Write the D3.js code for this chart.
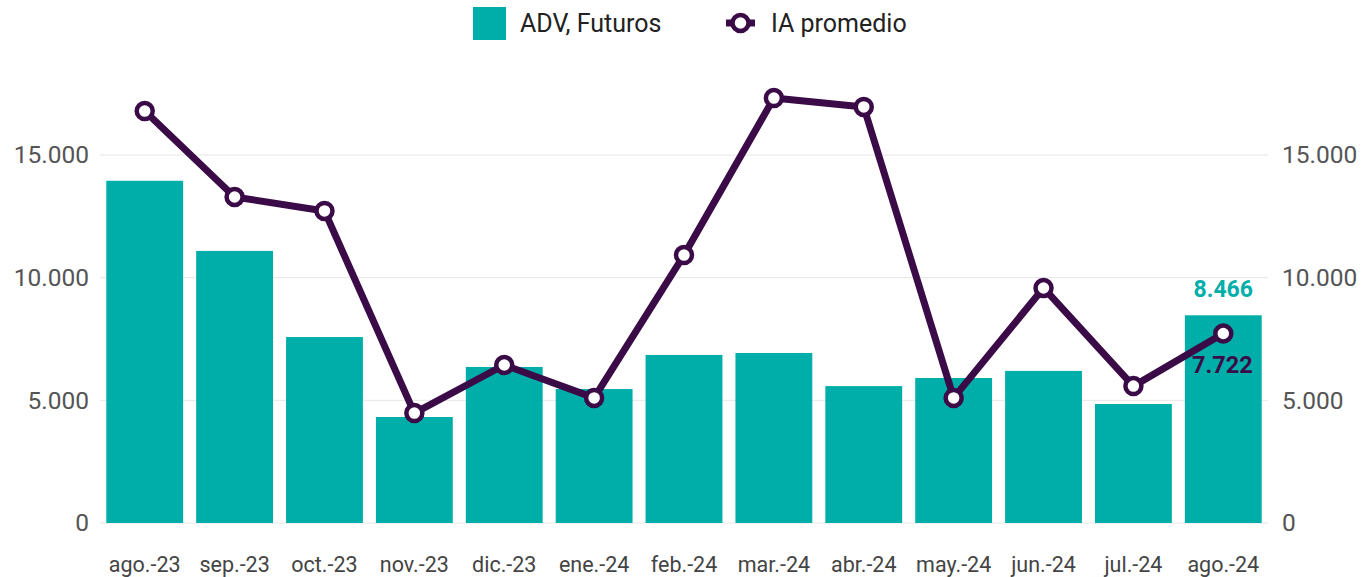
<!DOCTYPE html>
<html>
<head>
<meta charset="utf-8">
<script src="https://cdn.jsdelivr.net/npm/d3@7"></script>
<style>
  body { margin: 0; background: #fff; }
  svg { display: block; font-family: Roboto, sans-serif; }
</style>
</head>
<body>
<div id="chart"></div>
<script>
const months = ['ago.-23', 'sep.-23', 'oct.-23', 'nov.-23', 'dic.-23', 'ene.-24', 'feb.-24',
    'mar.-24', 'abr.-24', 'may.-24', 'jun.-24', 'jul.-24', 'ago.-24']
const advFuturos = [13950, 11090, 7580, 4320, 6360, 5460, 6850, 6930, 5580, 5910, 6200, 4850, 8466]
const iaPromedio = [16790, 13290, 12720, 4480, 6440, 5100, 10920, 17320, 16960, 5100, 9580, 5580, 7722]
const yTicks = [0, 5000, 10000, 15000]

const width = 1361, height = 577
const teal = '#00AEA9', purple = '#3A0B47'
const fmt = d => d3.format(',')(d).replace(/,/g, '.')

const svg = d3.select('#chart')
    .append('svg')
    .attr('width', width)
    .attr('height', height)

const xScale = d3.scaleBand().domain(months).range([100, 1268]).paddingInner(0.145).paddingOuter(0.07)
const yScale = d3.scaleLinear().domain([0, 15000]).range([523, 155])
const y1Scale = d3.scaleLinear().domain([0, 15000]).range([523, 155])

// gridlines
svg.append('g')
    .selectAll('line')
    .data(yTicks)
    .join('line')
    .attr('x1', 100)
    .attr('x2', 1268)
    .attr('y1', d => yScale(d))
    .attr('y2', d => yScale(d))
    .attr('stroke', '#e6e6e6')
    .attr('stroke-width', 1)

// left axis
const yaxis = d3.axisLeft(yScale).tickValues(yTicks).tickFormat(fmt).tickSize(0).tickPadding(0)
svg.append('g')
    .attr('transform', 'translate(89,0)')
    .call(yaxis)
    .call(g => g.select('.domain').remove())
    .selectAll('text')
    .style('font-size', '24.5px')
    .style('font-family', 'Roboto, sans-serif')
    .attr('fill', '#555')

// right axis
const y1axis = d3.axisRight(y1Scale).tickValues(yTicks).tickFormat(fmt).tickSize(0).tickPadding(0)
svg.append('g')
    .attr('transform', 'translate(1282,0)')
    .call(y1axis)
    .call(g => g.select('.domain').remove())
    .selectAll('text')
    .style('font-size', '24.5px')
    .style('font-family', 'Roboto, sans-serif')
    .attr('fill', '#555')

// x axis
const xaxis = d3.axisBottom(xScale).tickSize(0).tickPadding(0)
svg.append('g')
    .attr('transform', 'translate(0,557)')
    .call(xaxis)
    .call(g => g.select('.domain').remove())
    .selectAll('text')
    .style('font-size', '21.5px')
    .style('font-family', 'Roboto, sans-serif')
    .attr('fill', '#444')

// bars
svg.append('g')
    .selectAll('rect')
    .data(advFuturos)
    .join('rect')
    .attr('x', (d, i) => xScale(months[i]))
    .attr('y', d => yScale(d))
    .attr('width', xScale.bandwidth())
    .attr('height', d => yScale(0) - yScale(d))
    .attr('fill', teal)

// line
const cx = i => xScale(months[i]) + xScale.bandwidth() / 2
const line = d3.line()
    .x((d, i) => cx(i))
    .y(d => y1Scale(d))

svg.append('path')
    .datum(iaPromedio)
    .attr('fill', 'none')
    .attr('stroke', purple)
    .attr('stroke-width', 7)
    .attr('stroke-linejoin', 'round')
    .attr('d', line)

svg.append('g')
    .selectAll('circle')
    .data(iaPromedio)
    .join('circle')
    .attr('cx', (d, i) => cx(i))
    .attr('cy', d => y1Scale(d))
    .attr('r', 8)
    .attr('fill', '#fff')
    .attr('stroke', purple)
    .attr('stroke-width', 4.5)

// last value labels
const last = months.length - 1
svg.append('text')
    .attr('x', cx(last))
    .attr('y', yScale(advFuturos[last]) - 18)
    .attr('text-anchor', 'middle')
    .style('font-size', '23px')
    .style('font-weight', 'bold')
    .attr('fill', teal)
    .text(fmt(advFuturos[last]))

svg.append('text')
    .attr('x', cx(last) - 1)
    .attr('y', y1Scale(iaPromedio[last]) + 39)
    .attr('text-anchor', 'middle')
    .style('font-size', '23.5px')
    .style('font-weight', 'bold')
    .attr('fill', purple)
    .text(fmt(iaPromedio[last]))

// legend
const legend = svg.append('g')
legend.append('rect')
    .attr('x', 473)
    .attr('y', 7)
    .attr('width', 33)
    .attr('height', 33)
    .attr('fill', teal)
legend.append('text')
    .attr('x', 520)
    .attr('y', 32)
    .style('font-size', '25px')
    .attr('fill', '#222')
    .text('ADV, Futuros')
legend.append('line')
    .attr('x1', 726)
    .attr('x2', 755)
    .attr('y1', 23)
    .attr('y2', 23)
    .attr('stroke', purple)
    .attr('stroke-width', 7)
legend.append('circle')
    .attr('cx', 740.5)
    .attr('cy', 23)
    .attr('r', 8)
    .attr('fill', '#fff')
    .attr('stroke', purple)
    .attr('stroke-width', 4.5)
legend.append('text')
    .attr('x', 771)
    .attr('y', 32)
    .style('font-size', '25px')
    .attr('fill', '#222')
    .text('IA promedio')
</script>
</body>
</html>
